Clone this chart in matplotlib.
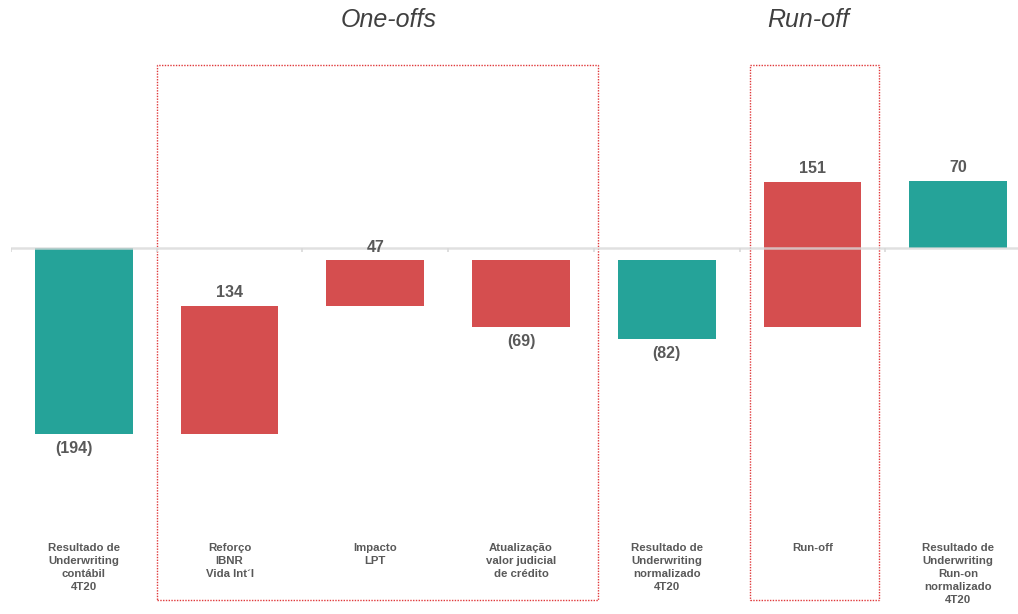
import matplotlib.pyplot as plt
from matplotlib.patches import Rectangle
import matplotlib.transforms as mtransforms

plt.rcParams['font.family'] = ['Liberation Sans', 'DejaVu Sans']

categories = [
    'Resultado de\nUnderwriting\ncontábil\n4T20',
    'Reforço\nIBNR\nVida Int´l',
    'Impacto\nLPT',
    'Atualização\nvalor judicial\nde crédito',
    'Resultado de\nUnderwriting\nnormalizado\n4T20',
    'Run-off',
    'Resultado de\nUnderwriting\nRun-on\nnormalizado\n4T20',
]
values = [-194, 134, 47, -69, -82, 151, 70]
is_total = [True, False, False, False, True, False, True]

TEAL = '#25a399'
RED = '#d54e4f'
GREY_TXT = '#595959'

# waterfall bases: steps build on the running level, totals hang from the previous bar
bottoms = []
level = 0
prev_top = 0
for v, total in zip(values, is_total):
    if total:
        b = min(prev_top, 0)
        level = v
    else:
        b = level
        level += v
    bottoms.append(b)
    prev_top = max(b, b + v)

fig = plt.figure(figsize=(10.18, 6.14), dpi=100)
ax = fig.add_axes([11 / 1018, 0, 1020 / 1018, 1])
ax.set_xlim(-0.5, 6.5)
ax.set_ylim(-381, 258)
ax.axis('off')

x = list(range(len(values)))
colors = [TEAL if t else RED for t in is_total]
ax.bar(x, values, bottom=bottoms, width=0.67, color=colors, zorder=2)

# baseline with small ticks between categories
ax.plot([-0.5, 6.5], [0, 0], color='#d9d9d9', lw=1.8, zorder=3, alpha=0.8)
ax.vlines([i - 0.5 for i in range(len(values) + 1)], -4, 0, color='#d9d9d9', lw=1.2, zorder=3)

for xi, v, b in zip(x, values, bottoms):
    txt = f'{v}' if v >= 0 else f'({abs(v)})'
    if v >= 0:
        ax.annotate(txt, (xi, b + v), xytext=(0, 4), textcoords='offset points',
                    ha='center', va='bottom', fontsize=11.5, fontweight='bold', color=GREY_TXT)
    else:
        dx = -7 if xi == 0 else 0
        ax.annotate(txt, (xi, b + v), xytext=(dx, -5), textcoords='offset points',
                    ha='center', va='top', fontsize=11.5, fontweight='bold', color=GREY_TXT)

trans = mtransforms.blended_transform_factory(ax.transData, ax.transAxes)

for xi, lab in zip(x, categories):
    ax.text(xi, 1 - 543 / 614, lab, transform=trans,
            ha='center', va='top', fontsize=8.2, fontweight='bold', color=GREY_TXT, linespacing=1.38)

# dotted frames around the grouped items
y0, y1 = 1 - 600 / 614, 1 - 65 / 614
for left, right in [(0.5, 3.53), (4.57, 5.46)]:
    ax.add_patch(Rectangle((left, y0), right - left, y1 - y0, transform=trans, fill=False,
                           edgecolor='#e0393b', lw=1, linestyle=(0, (1, 1)), clip_on=False, zorder=1))

ax.text(2.09, 1 - 20 / 614, 'One-offs', transform=trans, ha='center', va='center',
        fontsize=18, fontstyle='italic', color='#404040')
ax.text(4.97, 1 - 20 / 614, 'Run-off', transform=trans, ha='center', va='center',
        fontsize=18, fontstyle='italic', color='#404040')

fig.savefig('out.png', dpi=100)
